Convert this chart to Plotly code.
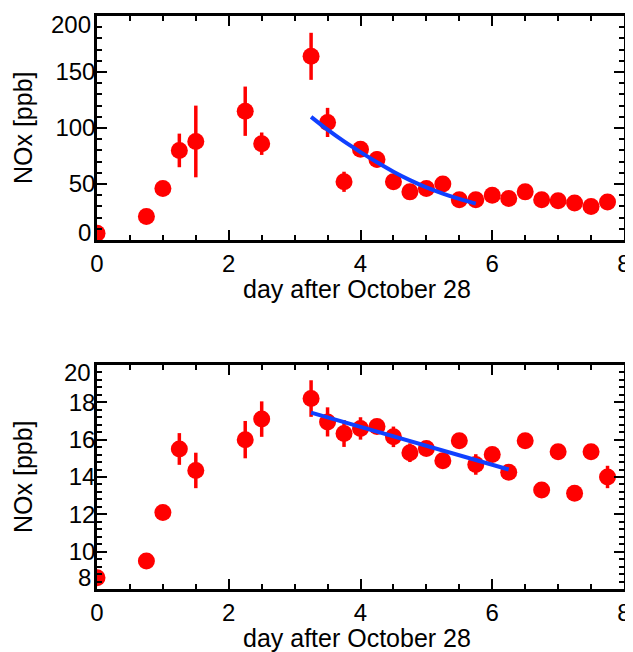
import plotly.graph_objects as go

# days after October 28 (both panels share the same sampling)
days = [0, 0.75, 1.0, 1.25, 1.5, 2.25, 2.5, 3.25, 3.5, 3.75, 4.0, 4.25, 4.5,
        4.75, 5.0, 5.25, 5.5, 5.75, 6.0, 6.25, 6.5, 6.75, 7.0, 7.25, 7.5, 7.75]

# top panel NOx [ppb]
nox_top = [6, 21, 46, 80, 88, 115, 86, 164, 105, 52, 81, 72, 52,
           43, 46, 50, 36, 36, 40, 37, 43, 36, 35, 33, 30, 34]
err_top = [0, 0, 0, 15, 32, 22, 10, 21, 13, 9, 5, 7, 0,
           0, 0, 0, 0, 0, 0, 0, 0, 0, 0, 0, 0, 0]

# top panel fit curve
fit_top_x = [3.25, 3.5, 3.75, 4.0, 4.25, 4.5, 4.75, 5.0, 5.25, 5.5, 5.75]
fit_top_y = [110, 98.5, 88, 78.5, 69.5, 61, 53.5, 47, 41.5, 36.7, 32.5]

# bottom panel NOx [ppb]
nox_bot = [8.6, 9.5, 12.1, 15.5, 14.35, 16.0, 17.1, 18.2, 16.95, 16.33, 16.6, 16.7, 16.15,
           15.3, 15.53, 14.87, 15.94, 14.67, 15.2, 14.25, 15.94, 13.3, 15.35, 13.13, 15.35, 14.0]
err_bot = [0, 0, 0, 0.85, 0.95, 1.0, 0.95, 0.98, 0.78, 0.72, 0.6, 0.35, 0.55,
           0.5, 0.3, 0.3, 0, 0.55, 0.3, 0.3, 0, 0, 0, 0, 0, 0.6]

# bottom panel linear fit
fit_bot_x = [3.25, 6.25]
fit_bot_y = [17.45, 14.4]

# y tick labels: interior ones on the axis, end ones nudged inward like the original
top_ticks = [50, 100, 150]
top_ends = [(0, 0.6213), (200, 0.9843)]
bot_ticks = [10, 12, 14, 16, 18]
bot_ends = [(8, 0.0192), (20, 0.377)]

RED = "#ff0000"
BLUE = "#1040ff"
FONT = dict(family="Liberation Sans, Arial, sans-serif", size=24, color="black")
TITLE_FONT = dict(FONT, size=25)

fig = go.Figure()

fig.add_trace(go.Scatter(x=days, y=nox_top, mode="markers",
                         marker=dict(color=RED, size=17),
                         error_y=dict(type="data", array=err_top, color=RED,
                                      thickness=3.5, width=0),
                         xaxis="x", yaxis="y"))
fig.add_trace(go.Scatter(x=fit_top_x, y=fit_top_y, mode="lines", line_shape="spline",
                         line=dict(color=BLUE, width=4), xaxis="x", yaxis="y"))

fig.add_trace(go.Scatter(x=days, y=nox_bot, mode="markers",
                         marker=dict(color=RED, size=17),
                         error_y=dict(type="data", array=err_bot, color=RED,
                                      thickness=3.5, width=0),
                         xaxis="x2", yaxis="y2"))
fig.add_trace(go.Scatter(x=fit_bot_x, y=fit_bot_y, mode="lines",
                         line=dict(color=BLUE, width=4), xaxis="x2", yaxis="y2"))

axis_style = dict(showline=True, linecolor="black", linewidth=2.5, mirror="ticks",
                  ticks="inside", ticklen=10, tickwidth=2, tickcolor="black",
                  showgrid=False, zeroline=False, tickfont=FONT, automargin=False,
                  ticklabeloverflow="allow")

def minor(step):
    return dict(dtick=step, ticklen=5, tickwidth=2, ticks="inside", tickcolor="black")

# the page adds an 8px body margin, so the figure is drawn 8px smaller
fig.update_layout(
    width=625, height=644,
    margin=dict(l=89, r=9, t=8, b=63),
    paper_bgcolor="white", plot_bgcolor="white",
    showlegend=False,
    font=FONT,
    xaxis=dict(axis_style, domain=[0, 1], anchor="y", range=[0, 8], dtick=2, minor=minor(0.5)),
    yaxis=dict(axis_style, domain=[0.609, 1], anchor="x", range=[0, 200],
               tickvals=top_ticks, ticklabelstandoff=-6, minor=minor(10)),
    xaxis2=dict(axis_style, domain=[0, 1], anchor="y2", range=[0, 8], dtick=2, minor=minor(0.5)),
    yaxis2=dict(axis_style, domain=[0, 0.391], anchor="x2", range=[8, 20],
                tickvals=bot_ticks, ticklabelstandoff=-6, minor=minor(0.4)),
)

# end tick labels at the box corners
for val, py in top_ends + bot_ends:
    fig.add_annotation(text=str(val), xref="paper", yref="paper", x=0, y=py,
                       xanchor="right", yanchor="middle", xshift=-4,
                       showarrow=False, font=FONT)

# axis titles placed as annotations for exact positioning
for ty in (0.5236, -0.0855):
    fig.add_annotation(text="day after October 28", xref="paper", yref="paper",
                       x=0.494, y=ty, xanchor="center", yanchor="middle",
                       showarrow=False, font=TITLE_FONT)
for ty in (0.8045, 0.1955):
    fig.add_annotation(text="NOx [ppb]", xref="paper", yref="paper",
                       x=-0.1404, y=ty, xanchor="center", yanchor="middle",
                       textangle=-90, showarrow=False, font=TITLE_FONT)

fig.write_html("out.html")
